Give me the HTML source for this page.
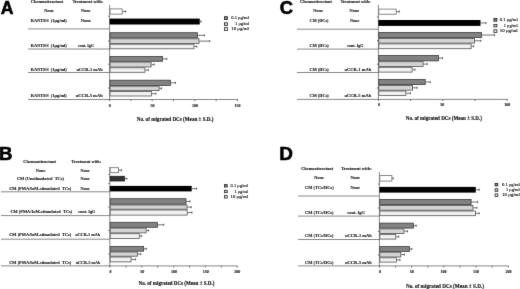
<!DOCTYPE html>
<html><head><meta charset="utf-8"><style>
html,body{margin:0;padding:0;background:#fff;width:520px;height:289px;overflow:hidden}
svg{display:block;filter:grayscale(1)}
</style></head><body>
<svg width="520" height="289" viewBox="0 0 520 289">
<defs><filter id="bl" color-interpolation-filters="sRGB" filterUnits="userSpaceOnUse" x="0" y="0" width="520" height="289"><feConvolveMatrix order="3" kernelMatrix="0.00524 0.06192 0.00524 0.06192 0.73137 0.06192 0.00524 0.06192 0.00524" edgeMode="duplicate" preserveAlpha="true"/></filter></defs>
<g filter="url(#bl)">
<rect width="520" height="289" fill="#fff"/>
<text transform="translate(0.7,14.13) scale(0.883,0.942)" font-size="20" font-family="Liberation Sans, sans-serif" font-weight="bold" fill="#000" stroke="#000" stroke-width="0.6">A</text>
<text x="30.8" y="3.3" font-size="4.5" textLength="32.4" lengthAdjust="spacingAndGlyphs" font-family="Liberation Serif, serif" font-weight="bold" fill="#111" stroke="#111" stroke-width="0.1">Chemoattractant</text>
<text x="72.4" y="3.3" font-size="4.5" textLength="30.7" lengthAdjust="spacingAndGlyphs" font-family="Liberation Serif, serif" font-weight="bold" fill="#111" stroke="#111" stroke-width="0.1">Treatment with:</text>
<text x="44.2" y="12.2" font-size="4.5" textLength="9.5" lengthAdjust="spacingAndGlyphs" font-family="Liberation Serif, serif" font-weight="bold" fill="#111" stroke="#111" stroke-width="0.1">None</text>
<text x="81" y="12.2" font-size="4.5" textLength="9.5" lengthAdjust="spacingAndGlyphs" font-family="Liberation Serif, serif" font-weight="bold" fill="#111" stroke="#111" stroke-width="0.1">None</text>
<text x="30.8" y="22" font-size="4.5" textLength="36" lengthAdjust="spacingAndGlyphs" font-family="Liberation Serif, serif" font-weight="bold" fill="#111" stroke="#111" stroke-width="0.1">RANTES&#160;&#160;(1μg/ml)</text>
<text x="80.7" y="22.2" font-size="4.5" textLength="10.1" lengthAdjust="spacingAndGlyphs" font-family="Liberation Serif, serif" font-weight="bold" fill="#111" stroke="#111" stroke-width="0.1">None</text>
<text x="30.8" y="46.5" font-size="4.5" textLength="36" lengthAdjust="spacingAndGlyphs" font-family="Liberation Serif, serif" font-weight="bold" fill="#111" stroke="#111" stroke-width="0.1">RANTES&#160;&#160;(1μg/ml)</text>
<text x="78.1" y="46.5" font-size="4.5" textLength="15.8" lengthAdjust="spacingAndGlyphs" font-family="Liberation Serif, serif" font-weight="bold" fill="#111" stroke="#111" stroke-width="0.1">cont. IgG</text>
<text x="30.8" y="70.5" font-size="4.5" textLength="36" lengthAdjust="spacingAndGlyphs" font-family="Liberation Serif, serif" font-weight="bold" fill="#111" stroke="#111" stroke-width="0.1">RANTES&#160;&#160;(1μg/ml)</text>
<text x="76.5" y="70.5" font-size="4.5" textLength="26.2" lengthAdjust="spacingAndGlyphs" font-family="Liberation Serif, serif" font-weight="bold" fill="#111" stroke="#111" stroke-width="0.1">αCCR-1 mAb</text>
<text x="30.8" y="96.9" font-size="4.5" textLength="36" lengthAdjust="spacingAndGlyphs" font-family="Liberation Serif, serif" font-weight="bold" fill="#111" stroke="#111" stroke-width="0.1">RANTES&#160;&#160;(1μg/ml)</text>
<text x="75.8" y="96.9" font-size="4.5" textLength="26.9" lengthAdjust="spacingAndGlyphs" font-family="Liberation Serif, serif" font-weight="bold" fill="#111" stroke="#111" stroke-width="0.1">αCCR-5 mAb</text>
<line x1="28" y1="28.9" x2="109.6" y2="28.9" stroke="#6a6a6a" stroke-width="0.8"/>
<line x1="28" y1="49" x2="109.6" y2="49" stroke="#6a6a6a" stroke-width="0.8"/>
<line x1="28" y1="72.5" x2="109.6" y2="72.5" stroke="#6a6a6a" stroke-width="0.8"/>
<line x1="109.6" y1="4.8" x2="109.6" y2="100" stroke="#6a6a6a" stroke-width="0.8"/>
<line x1="28" y1="99.5" x2="238" y2="99.5" stroke="#6a6a6a" stroke-width="0.8"/>
<line x1="109.6" y1="99.5" x2="109.6" y2="101.1" stroke="#3a3a3a" stroke-width="0.7"/>
<line x1="130.9" y1="99.5" x2="130.9" y2="101.1" stroke="#3a3a3a" stroke-width="0.7"/>
<line x1="152.2" y1="99.5" x2="152.2" y2="101.1" stroke="#3a3a3a" stroke-width="0.7"/>
<line x1="173.5" y1="99.5" x2="173.5" y2="101.1" stroke="#3a3a3a" stroke-width="0.7"/>
<line x1="194.8" y1="99.5" x2="194.8" y2="101.1" stroke="#3a3a3a" stroke-width="0.7"/>
<line x1="216.1" y1="99.5" x2="216.1" y2="101.1" stroke="#3a3a3a" stroke-width="0.7"/>
<line x1="237.4" y1="99.5" x2="237.4" y2="101.1" stroke="#3a3a3a" stroke-width="0.7"/>
<text x="109.8" y="107.1" font-size="4" text-anchor="middle" font-family="Liberation Serif, serif" font-weight="bold" fill="#111" stroke="#111" stroke-width="0.1">0</text>
<text x="152.5" y="107.1" font-size="4" text-anchor="middle" font-family="Liberation Serif, serif" font-weight="bold" fill="#111" stroke="#111" stroke-width="0.1">50</text>
<text x="195" y="107.1" font-size="4" text-anchor="middle" font-family="Liberation Serif, serif" font-weight="bold" fill="#111" stroke="#111" stroke-width="0.1">100</text>
<text x="237.6" y="107.1" font-size="4" text-anchor="middle" font-family="Liberation Serif, serif" font-weight="bold" fill="#111" stroke="#111" stroke-width="0.1">150</text>
<text x="136.8" y="120.6" font-size="5.2" textLength="76.7" lengthAdjust="spacingAndGlyphs" font-family="Liberation Serif, serif" font-weight="bold" fill="#111" stroke="#111" stroke-width="0.12">No. of migrated DCs (Mean ± S.D.)</text>
<rect x="110" y="8.9" width="12.2" height="5.2" fill="#ffffff" stroke="#6a6a6a" stroke-width="0.8"/>
<line x1="122.6" y1="11.5" x2="125.6" y2="11.5" stroke="#333" stroke-width="0.7"/>
<line x1="125.6" y1="10.4" x2="125.6" y2="12.6" stroke="#333" stroke-width="0.7"/>
<rect x="109.6" y="18.6" width="90.15" height="5.9" fill="#000000"/>
<line x1="199.75" y1="21.55" x2="201" y2="21.55" stroke="#333" stroke-width="0.7"/>
<line x1="201" y1="20.45" x2="201" y2="22.65" stroke="#333" stroke-width="0.7"/>
<rect x="110" y="32.7" width="87.35" height="5.3" fill="#828282" stroke="#3c3c3c" stroke-width="0.8"/>
<line x1="197.75" y1="35.35" x2="204.4" y2="35.35" stroke="#333" stroke-width="0.7"/>
<line x1="204.4" y1="34.25" x2="204.4" y2="36.45" stroke="#333" stroke-width="0.7"/>
<rect x="110" y="38.8" width="89" height="4.6" fill="#d4d4d4" stroke="#505050" stroke-width="0.8"/>
<line x1="199.4" y1="41.1" x2="209.75" y2="41.1" stroke="#333" stroke-width="0.7"/>
<line x1="209.75" y1="40" x2="209.75" y2="42.2" stroke="#333" stroke-width="0.7"/>
<rect x="110" y="44.2" width="84" height="4.6" fill="#f1f1f1" stroke="#555555" stroke-width="0.8"/>
<line x1="194.4" y1="46.5" x2="196.9" y2="46.5" stroke="#333" stroke-width="0.7"/>
<line x1="196.9" y1="45.4" x2="196.9" y2="47.6" stroke="#333" stroke-width="0.7"/>
<rect x="110" y="56.4" width="52.4" height="4.9" fill="#828282" stroke="#3c3c3c" stroke-width="0.8"/>
<line x1="162.8" y1="58.85" x2="166.8" y2="58.85" stroke="#333" stroke-width="0.7"/>
<line x1="166.8" y1="57.75" x2="166.8" y2="59.95" stroke="#333" stroke-width="0.7"/>
<rect x="110" y="62.1" width="41.1" height="4.9" fill="#d4d4d4" stroke="#505050" stroke-width="0.8"/>
<line x1="151.5" y1="64.55" x2="154.2" y2="64.55" stroke="#333" stroke-width="0.7"/>
<line x1="154.2" y1="63.45" x2="154.2" y2="65.65" stroke="#333" stroke-width="0.7"/>
<rect x="110" y="67.8" width="34.9" height="4.5" fill="#f1f1f1" stroke="#555555" stroke-width="0.8"/>
<line x1="145.3" y1="70.05" x2="148.3" y2="70.05" stroke="#333" stroke-width="0.7"/>
<line x1="148.3" y1="68.95" x2="148.3" y2="71.15" stroke="#333" stroke-width="0.7"/>
<rect x="110" y="80.2" width="60.4" height="5.2" fill="#828282" stroke="#3c3c3c" stroke-width="0.8"/>
<line x1="170.8" y1="82.8" x2="175.5" y2="82.8" stroke="#333" stroke-width="0.7"/>
<line x1="175.5" y1="81.7" x2="175.5" y2="83.9" stroke="#333" stroke-width="0.7"/>
<rect x="110" y="86.2" width="49.1" height="4.4" fill="#d4d4d4" stroke="#505050" stroke-width="0.8"/>
<line x1="159.5" y1="88.4" x2="161.6" y2="88.4" stroke="#333" stroke-width="0.7"/>
<line x1="161.6" y1="87.3" x2="161.6" y2="89.5" stroke="#333" stroke-width="0.7"/>
<rect x="110" y="91.4" width="41.5" height="4.6" fill="#f1f1f1" stroke="#555555" stroke-width="0.8"/>
<line x1="151.9" y1="93.7" x2="155.9" y2="93.7" stroke="#333" stroke-width="0.7"/>
<line x1="155.9" y1="92.6" x2="155.9" y2="94.8" stroke="#333" stroke-width="0.7"/>
<line x1="108.1" y1="16.2" x2="109.6" y2="16.2" stroke="#3a3a3a" stroke-width="0.7"/>
<line x1="108.1" y1="40.8" x2="109.6" y2="40.8" stroke="#3a3a3a" stroke-width="0.7"/>
<line x1="108.1" y1="64.2" x2="109.6" y2="64.2" stroke="#3a3a3a" stroke-width="0.7"/>
<line x1="108.1" y1="88" x2="109.6" y2="88" stroke="#3a3a3a" stroke-width="0.7"/>
<rect x="224.4" y="16.7" width="3.2" height="2.8" fill="#828282" stroke="#222" stroke-width="0.8"/>
<text x="231.2" y="19.2" font-size="4.5" textLength="17.8" lengthAdjust="spacingAndGlyphs" font-family="Liberation Serif, serif" font-weight="normal" fill="#111" stroke="#111" stroke-width="0.12">0.1 μg/ml</text>
<rect x="224.4" y="22.8" width="3.2" height="2.6" fill="#d4d4d4" stroke="#222" stroke-width="0.8"/>
<text x="235.12" y="25.2" font-size="4.5" textLength="13.88" lengthAdjust="spacingAndGlyphs" font-family="Liberation Serif, serif" font-weight="normal" fill="#111" stroke="#111" stroke-width="0.12">1 μg/ml</text>
<rect x="224.4" y="27.7" width="3.2" height="2.8" fill="#f1f1f1" stroke="#222" stroke-width="0.8"/>
<text x="231.2" y="30.2" font-size="4.5" textLength="17.8" lengthAdjust="spacingAndGlyphs" font-family="Liberation Serif, serif" font-weight="normal" fill="#111" stroke="#111" stroke-width="0.12">10 μg/ml</text>
<text transform="translate(-0.93,160.03) scale(0.93,0.945)" font-size="20" font-family="Liberation Sans, sans-serif" font-weight="bold" fill="#000" stroke="#000" stroke-width="0.6">B</text>
<text x="23.3" y="162.5" font-size="4.5" textLength="32.7" lengthAdjust="spacingAndGlyphs" font-family="Liberation Serif, serif" font-weight="bold" fill="#111" stroke="#111" stroke-width="0.1">Chemoattractant</text>
<text x="71.3" y="162.5" font-size="4.5" textLength="29.9" lengthAdjust="spacingAndGlyphs" font-family="Liberation Serif, serif" font-weight="bold" fill="#111" stroke="#111" stroke-width="0.1">Treatment with:</text>
<text x="35.8" y="172.3" font-size="4.5" textLength="9.6" lengthAdjust="spacingAndGlyphs" font-family="Liberation Serif, serif" font-weight="bold" fill="#111" stroke="#111" stroke-width="0.1">None</text>
<text x="80.4" y="172.3" font-size="4.5" textLength="9.2" lengthAdjust="spacingAndGlyphs" font-family="Liberation Serif, serif" font-weight="bold" fill="#111" stroke="#111" stroke-width="0.1">None</text>
<text x="16.9" y="180.2" font-size="4.5" textLength="47.1" lengthAdjust="spacingAndGlyphs" font-family="Liberation Serif, serif" font-weight="bold" fill="#111" stroke="#111" stroke-width="0.1">CM (Unstimulated&#160;&#160;TCs)</text>
<text x="80.4" y="180.2" font-size="4.5" textLength="9.2" lengthAdjust="spacingAndGlyphs" font-family="Liberation Serif, serif" font-weight="bold" fill="#111" stroke="#111" stroke-width="0.1">None</text>
<text x="9.2" y="189.9" font-size="4.5" textLength="62.1" lengthAdjust="spacingAndGlyphs" font-family="Liberation Serif, serif" font-weight="bold" fill="#111" stroke="#111" stroke-width="0.1">CM (PMA/IoM-stimulated&#160;&#160;TCs)</text>
<text x="80.4" y="189.9" font-size="4.5" textLength="9.2" lengthAdjust="spacingAndGlyphs" font-family="Liberation Serif, serif" font-weight="bold" fill="#111" stroke="#111" stroke-width="0.1">None</text>
<text x="10.4" y="213.2" font-size="4.5" textLength="61.9" lengthAdjust="spacingAndGlyphs" font-family="Liberation Serif, serif" font-weight="bold" fill="#111" stroke="#111" stroke-width="0.1">CM (PMA/IoM-stimulated&#160;&#160;TCs)</text>
<text x="78.2" y="213.3" font-size="4.5" textLength="17.2" lengthAdjust="spacingAndGlyphs" font-family="Liberation Serif, serif" font-weight="bold" fill="#111" stroke="#111" stroke-width="0.1">cont. IgG</text>
<text x="9.2" y="236.3" font-size="4.5" textLength="62.1" lengthAdjust="spacingAndGlyphs" font-family="Liberation Serif, serif" font-weight="bold" fill="#111" stroke="#111" stroke-width="0.1">CM (PMA/IoM-stimulated&#160;&#160;TCs)</text>
<text x="75.2" y="236.3" font-size="4.5" textLength="25" lengthAdjust="spacingAndGlyphs" font-family="Liberation Serif, serif" font-weight="bold" fill="#111" stroke="#111" stroke-width="0.1">αCCR-1 mAb</text>
<text x="9.2" y="263.5" font-size="4.5" textLength="62.1" lengthAdjust="spacingAndGlyphs" font-family="Liberation Serif, serif" font-weight="bold" fill="#111" stroke="#111" stroke-width="0.1">CM (PMA/IoM-stimulated&#160;&#160;TCs)</text>
<text x="75.8" y="263.5" font-size="4.5" textLength="24.4" lengthAdjust="spacingAndGlyphs" font-family="Liberation Serif, serif" font-weight="bold" fill="#111" stroke="#111" stroke-width="0.1">αCCR-5 mAb</text>
<line x1="1" y1="191.8" x2="109.8" y2="191.8" stroke="#6a6a6a" stroke-width="0.8"/>
<line x1="1" y1="215.6" x2="109.8" y2="215.6" stroke="#6a6a6a" stroke-width="0.8"/>
<line x1="1" y1="239.2" x2="109.8" y2="239.2" stroke="#6a6a6a" stroke-width="0.8"/>
<line x1="109.8" y1="166.9" x2="109.8" y2="266.4" stroke="#6a6a6a" stroke-width="0.8"/>
<line x1="1" y1="265.9" x2="237.5" y2="265.9" stroke="#6a6a6a" stroke-width="0.8"/>
<line x1="110" y1="265.9" x2="110" y2="267.5" stroke="#3a3a3a" stroke-width="0.7"/>
<line x1="125.9" y1="265.9" x2="125.9" y2="267.5" stroke="#3a3a3a" stroke-width="0.7"/>
<line x1="141.8" y1="265.9" x2="141.8" y2="267.5" stroke="#3a3a3a" stroke-width="0.7"/>
<line x1="157.7" y1="265.9" x2="157.7" y2="267.5" stroke="#3a3a3a" stroke-width="0.7"/>
<line x1="173.6" y1="265.9" x2="173.6" y2="267.5" stroke="#3a3a3a" stroke-width="0.7"/>
<line x1="189.5" y1="265.9" x2="189.5" y2="267.5" stroke="#3a3a3a" stroke-width="0.7"/>
<line x1="205.4" y1="265.9" x2="205.4" y2="267.5" stroke="#3a3a3a" stroke-width="0.7"/>
<line x1="221.3" y1="265.9" x2="221.3" y2="267.5" stroke="#3a3a3a" stroke-width="0.7"/>
<line x1="237.2" y1="265.9" x2="237.2" y2="267.5" stroke="#3a3a3a" stroke-width="0.7"/>
<text x="110.5" y="273.4" font-size="4" text-anchor="middle" font-family="Liberation Serif, serif" font-weight="bold" fill="#111" stroke="#111" stroke-width="0.1">0</text>
<text x="142.3" y="273.4" font-size="4" text-anchor="middle" font-family="Liberation Serif, serif" font-weight="bold" fill="#111" stroke="#111" stroke-width="0.1">50</text>
<text x="174" y="273.4" font-size="4" text-anchor="middle" font-family="Liberation Serif, serif" font-weight="bold" fill="#111" stroke="#111" stroke-width="0.1">100</text>
<text x="205.8" y="273.4" font-size="4" text-anchor="middle" font-family="Liberation Serif, serif" font-weight="bold" fill="#111" stroke="#111" stroke-width="0.1">150</text>
<text x="237.3" y="273.4" font-size="4" text-anchor="middle" font-family="Liberation Serif, serif" font-weight="bold" fill="#111" stroke="#111" stroke-width="0.1">200</text>
<text x="138.5" y="284.5" font-size="5.2" textLength="76" lengthAdjust="spacingAndGlyphs" font-family="Liberation Serif, serif" font-weight="bold" fill="#111" stroke="#111" stroke-width="0.12">No. of migrated DCs (Mean ± S.D.)</text>
<rect x="110.2" y="167.7" width="8.2" height="5" fill="#ffffff" stroke="#6a6a6a" stroke-width="0.8"/>
<line x1="118.8" y1="170.2" x2="121.6" y2="170.2" stroke="#333" stroke-width="0.7"/>
<line x1="121.6" y1="169.1" x2="121.6" y2="171.3" stroke="#333" stroke-width="0.7"/>
<rect x="110.2" y="176.3" width="14.2" height="4.7" fill="#333333" stroke="#1a1a1a" stroke-width="0.8"/>
<line x1="124.8" y1="178.65" x2="126.8" y2="178.65" stroke="#333" stroke-width="0.7"/>
<line x1="126.8" y1="177.55" x2="126.8" y2="179.75" stroke="#333" stroke-width="0.7"/>
<rect x="109.8" y="185.9" width="81.9" height="5.5" fill="#000000"/>
<line x1="191.7" y1="188.65" x2="196.5" y2="188.65" stroke="#333" stroke-width="0.7"/>
<line x1="196.5" y1="187.55" x2="196.5" y2="189.75" stroke="#333" stroke-width="0.7"/>
<rect x="110.2" y="198.7" width="75.8" height="5.5" fill="#828282" stroke="#3c3c3c" stroke-width="0.8"/>
<line x1="186.4" y1="201.45" x2="190" y2="201.45" stroke="#333" stroke-width="0.7"/>
<line x1="190" y1="200.35" x2="190" y2="202.55" stroke="#333" stroke-width="0.7"/>
<rect x="110.2" y="205" width="76.8" height="4.2" fill="#d4d4d4" stroke="#505050" stroke-width="0.8"/>
<line x1="187.4" y1="207.1" x2="191.2" y2="207.1" stroke="#333" stroke-width="0.7"/>
<line x1="191.2" y1="206" x2="191.2" y2="208.2" stroke="#333" stroke-width="0.7"/>
<rect x="110.2" y="210" width="77" height="5.1" fill="#f1f1f1" stroke="#555555" stroke-width="0.8"/>
<line x1="187.6" y1="212.55" x2="192" y2="212.55" stroke="#333" stroke-width="0.7"/>
<line x1="192" y1="211.45" x2="192" y2="213.65" stroke="#333" stroke-width="0.7"/>
<rect x="110.2" y="222.3" width="47.15" height="5" fill="#828282" stroke="#3c3c3c" stroke-width="0.8"/>
<line x1="157.75" y1="224.8" x2="163.75" y2="224.8" stroke="#333" stroke-width="0.7"/>
<line x1="163.75" y1="223.7" x2="163.75" y2="225.9" stroke="#333" stroke-width="0.7"/>
<rect x="110.2" y="228.1" width="35.9" height="4.8" fill="#d4d4d4" stroke="#505050" stroke-width="0.8"/>
<line x1="146.5" y1="230.5" x2="148.6" y2="230.5" stroke="#333" stroke-width="0.7"/>
<line x1="148.6" y1="229.4" x2="148.6" y2="231.6" stroke="#333" stroke-width="0.7"/>
<rect x="110.2" y="233.7" width="29.1" height="4.7" fill="#f1f1f1" stroke="#555555" stroke-width="0.8"/>
<line x1="139.7" y1="236.05" x2="141.6" y2="236.05" stroke="#333" stroke-width="0.7"/>
<line x1="141.6" y1="234.95" x2="141.6" y2="237.15" stroke="#333" stroke-width="0.7"/>
<rect x="110.2" y="246.4" width="33.4" height="4.8" fill="#828282" stroke="#3c3c3c" stroke-width="0.8"/>
<line x1="144" y1="248.8" x2="146.3" y2="248.8" stroke="#333" stroke-width="0.7"/>
<line x1="146.3" y1="247.7" x2="146.3" y2="249.9" stroke="#333" stroke-width="0.7"/>
<rect x="110.2" y="252" width="27.2" height="4.2" fill="#d4d4d4" stroke="#505050" stroke-width="0.8"/>
<line x1="137.8" y1="254.1" x2="140.8" y2="254.1" stroke="#333" stroke-width="0.7"/>
<line x1="140.8" y1="253" x2="140.8" y2="255.2" stroke="#333" stroke-width="0.7"/>
<rect x="110.2" y="257" width="20.9" height="4.9" fill="#f1f1f1" stroke="#555555" stroke-width="0.8"/>
<line x1="131.5" y1="259.45" x2="135.6" y2="259.45" stroke="#333" stroke-width="0.7"/>
<line x1="135.6" y1="258.35" x2="135.6" y2="260.55" stroke="#333" stroke-width="0.7"/>
<line x1="108.3" y1="174.5" x2="109.8" y2="174.5" stroke="#3a3a3a" stroke-width="0.7"/>
<line x1="108.3" y1="183.6" x2="109.8" y2="183.6" stroke="#3a3a3a" stroke-width="0.7"/>
<line x1="108.3" y1="207" x2="109.8" y2="207" stroke="#3a3a3a" stroke-width="0.7"/>
<line x1="108.3" y1="230.5" x2="109.8" y2="230.5" stroke="#3a3a3a" stroke-width="0.7"/>
<line x1="108.3" y1="254" x2="109.8" y2="254" stroke="#3a3a3a" stroke-width="0.7"/>
<rect x="224.5" y="184.6" width="2.7" height="2.4" fill="#828282" stroke="#222" stroke-width="0.8"/>
<text x="230.6" y="186.9" font-size="4.5" textLength="17.4" lengthAdjust="spacingAndGlyphs" font-family="Liberation Serif, serif" font-weight="normal" fill="#111" stroke="#111" stroke-width="0.12">0.1 μg/ml</text>
<rect x="224.5" y="190.3" width="2.7" height="2.4" fill="#d4d4d4" stroke="#222" stroke-width="0.8"/>
<text x="234.43" y="192.6" font-size="4.5" textLength="13.57" lengthAdjust="spacingAndGlyphs" font-family="Liberation Serif, serif" font-weight="normal" fill="#111" stroke="#111" stroke-width="0.12">1 μg/ml</text>
<rect x="224.5" y="195.6" width="2.7" height="2.4" fill="#f1f1f1" stroke="#222" stroke-width="0.8"/>
<text x="230.6" y="197.9" font-size="4.5" textLength="17.4" lengthAdjust="spacingAndGlyphs" font-family="Liberation Serif, serif" font-weight="normal" fill="#111" stroke="#111" stroke-width="0.12">10 μg/ml</text>
<text transform="translate(279.74,14.2) scale(0.92,0.96)" font-size="20" font-family="Liberation Sans, sans-serif" font-weight="bold" fill="#000" stroke="#000" stroke-width="0.6">C</text>
<text x="300" y="3.3" font-size="4.5" textLength="31.9" lengthAdjust="spacingAndGlyphs" font-family="Liberation Serif, serif" font-weight="bold" fill="#111" stroke="#111" stroke-width="0.1">Chemoattractant</text>
<text x="340.4" y="3.3" font-size="4.5" textLength="30.3" lengthAdjust="spacingAndGlyphs" font-family="Liberation Serif, serif" font-weight="bold" fill="#111" stroke="#111" stroke-width="0.1">Treatment with:</text>
<text x="313.2" y="12.3" font-size="4.5" textLength="9.8" lengthAdjust="spacingAndGlyphs" font-family="Liberation Serif, serif" font-weight="bold" fill="#111" stroke="#111" stroke-width="0.1">None</text>
<text x="349.6" y="12.3" font-size="4.5" textLength="9.7" lengthAdjust="spacingAndGlyphs" font-family="Liberation Serif, serif" font-weight="bold" fill="#111" stroke="#111" stroke-width="0.1">None</text>
<text x="309.6" y="22.3" font-size="4.9" textLength="18.9" lengthAdjust="spacingAndGlyphs" font-family="Liberation Serif, serif" font-weight="bold" fill="#111" stroke="#111" stroke-width="0.1">CM (DCs)</text>
<text x="350" y="22.2" font-size="4.5" textLength="9.3" lengthAdjust="spacingAndGlyphs" font-family="Liberation Serif, serif" font-weight="bold" fill="#111" stroke="#111" stroke-width="0.1">None</text>
<text x="309.6" y="46.9" font-size="4.5" textLength="19.2" lengthAdjust="spacingAndGlyphs" font-family="Liberation Serif, serif" font-weight="bold" fill="#111" stroke="#111" stroke-width="0.1">CM (DCs)</text>
<text x="347.3" y="46.9" font-size="4.5" textLength="16.2" lengthAdjust="spacingAndGlyphs" font-family="Liberation Serif, serif" font-weight="bold" fill="#111" stroke="#111" stroke-width="0.1">cont. IgG</text>
<text x="309.6" y="70.5" font-size="4.5" textLength="19.2" lengthAdjust="spacingAndGlyphs" font-family="Liberation Serif, serif" font-weight="bold" fill="#111" stroke="#111" stroke-width="0.1">CM (DCs)</text>
<text x="344.5" y="70.5" font-size="4.5" textLength="26.7" lengthAdjust="spacingAndGlyphs" font-family="Liberation Serif, serif" font-weight="bold" fill="#111" stroke="#111" stroke-width="0.1">αCCR-1 mAb</text>
<text x="309.6" y="96.8" font-size="4.5" textLength="19.2" lengthAdjust="spacingAndGlyphs" font-family="Liberation Serif, serif" font-weight="bold" fill="#111" stroke="#111" stroke-width="0.1">CM (DCs)</text>
<text x="344.5" y="96.8" font-size="4.5" textLength="26.7" lengthAdjust="spacingAndGlyphs" font-family="Liberation Serif, serif" font-weight="bold" fill="#111" stroke="#111" stroke-width="0.1">αCCR-5 mAb</text>
<line x1="297" y1="29.2" x2="378.4" y2="29.2" stroke="#6a6a6a" stroke-width="0.8"/>
<line x1="297" y1="49.1" x2="378.4" y2="49.1" stroke="#6a6a6a" stroke-width="0.8"/>
<line x1="297" y1="72.5" x2="378.4" y2="72.5" stroke="#6a6a6a" stroke-width="0.8"/>
<line x1="378.4" y1="4.8" x2="378.4" y2="99.9" stroke="#6a6a6a" stroke-width="0.8"/>
<line x1="297" y1="99.4" x2="507.5" y2="99.4" stroke="#6a6a6a" stroke-width="0.8"/>
<line x1="378.5" y1="99.4" x2="378.5" y2="101" stroke="#3a3a3a" stroke-width="0.7"/>
<line x1="410.65" y1="99.4" x2="410.65" y2="101" stroke="#3a3a3a" stroke-width="0.7"/>
<line x1="442.8" y1="99.4" x2="442.8" y2="101" stroke="#3a3a3a" stroke-width="0.7"/>
<line x1="474.95" y1="99.4" x2="474.95" y2="101" stroke="#3a3a3a" stroke-width="0.7"/>
<line x1="507.1" y1="99.4" x2="507.1" y2="101" stroke="#3a3a3a" stroke-width="0.7"/>
<text x="378.9" y="106.3" font-size="4" text-anchor="middle" font-family="Liberation Serif, serif" font-weight="bold" fill="#111" stroke="#111" stroke-width="0.1">0</text>
<text x="442.2" y="106.3" font-size="4" text-anchor="middle" font-family="Liberation Serif, serif" font-weight="bold" fill="#111" stroke="#111" stroke-width="0.1">50</text>
<text x="507.3" y="106.3" font-size="4" text-anchor="middle" font-family="Liberation Serif, serif" font-weight="bold" fill="#111" stroke="#111" stroke-width="0.1">100</text>
<text x="405.75" y="120.3" font-size="5.2" textLength="76.25" lengthAdjust="spacingAndGlyphs" font-family="Liberation Serif, serif" font-weight="bold" fill="#111" stroke="#111" stroke-width="0.12">No. of migrated DCs (Mean ± S.D.)</text>
<rect x="378.8" y="9.1" width="17.4" height="5.1" fill="#ffffff" stroke="#6a6a6a" stroke-width="0.8"/>
<line x1="396.6" y1="11.65" x2="399.4" y2="11.65" stroke="#333" stroke-width="0.7"/>
<line x1="399.4" y1="10.55" x2="399.4" y2="12.75" stroke="#333" stroke-width="0.7"/>
<rect x="378.4" y="20" width="102.1" height="5.9" fill="#000000"/>
<line x1="480.5" y1="22.95" x2="486" y2="22.95" stroke="#333" stroke-width="0.7"/>
<line x1="486" y1="21.85" x2="486" y2="24.05" stroke="#333" stroke-width="0.7"/>
<rect x="378.8" y="32.4" width="102.7" height="5.2" fill="#828282" stroke="#3c3c3c" stroke-width="0.8"/>
<line x1="481.9" y1="35" x2="494.6" y2="35" stroke="#333" stroke-width="0.7"/>
<line x1="494.6" y1="33.9" x2="494.6" y2="36.1" stroke="#333" stroke-width="0.7"/>
<rect x="378.8" y="38.4" width="95.8" height="4.7" fill="#d4d4d4" stroke="#505050" stroke-width="0.8"/>
<line x1="475" y1="40.75" x2="480.9" y2="40.75" stroke="#333" stroke-width="0.7"/>
<line x1="480.9" y1="39.65" x2="480.9" y2="41.85" stroke="#333" stroke-width="0.7"/>
<rect x="378.8" y="43.9" width="92.3" height="4.8" fill="#f1f1f1" stroke="#555555" stroke-width="0.8"/>
<line x1="471.5" y1="46.3" x2="473.75" y2="46.3" stroke="#333" stroke-width="0.7"/>
<line x1="473.75" y1="45.2" x2="473.75" y2="47.4" stroke="#333" stroke-width="0.7"/>
<rect x="378.8" y="55.4" width="59.8" height="5.5" fill="#828282" stroke="#3c3c3c" stroke-width="0.8"/>
<line x1="439" y1="58.15" x2="442.5" y2="58.15" stroke="#333" stroke-width="0.7"/>
<line x1="442.5" y1="57.05" x2="442.5" y2="59.25" stroke="#333" stroke-width="0.7"/>
<rect x="378.8" y="61.7" width="44.3" height="4.8" fill="#d4d4d4" stroke="#505050" stroke-width="0.8"/>
<line x1="423.5" y1="64.1" x2="427.25" y2="64.1" stroke="#333" stroke-width="0.7"/>
<line x1="427.25" y1="63" x2="427.25" y2="65.2" stroke="#333" stroke-width="0.7"/>
<rect x="378.8" y="67.3" width="33.3" height="4.8" fill="#f1f1f1" stroke="#555555" stroke-width="0.8"/>
<line x1="412.5" y1="69.7" x2="415" y2="69.7" stroke="#333" stroke-width="0.7"/>
<line x1="415" y1="68.6" x2="415" y2="70.8" stroke="#333" stroke-width="0.7"/>
<rect x="378.8" y="79.4" width="46.4" height="5.2" fill="#828282" stroke="#3c3c3c" stroke-width="0.8"/>
<line x1="425.6" y1="82" x2="430.25" y2="82" stroke="#333" stroke-width="0.7"/>
<line x1="430.25" y1="80.9" x2="430.25" y2="83.1" stroke="#333" stroke-width="0.7"/>
<rect x="378.8" y="85.4" width="33.8" height="4.8" fill="#d4d4d4" stroke="#505050" stroke-width="0.8"/>
<line x1="413" y1="87.8" x2="417.1" y2="87.8" stroke="#333" stroke-width="0.7"/>
<line x1="417.1" y1="86.7" x2="417.1" y2="88.9" stroke="#333" stroke-width="0.7"/>
<rect x="378.8" y="91" width="27.1" height="4.5" fill="#f1f1f1" stroke="#555555" stroke-width="0.8"/>
<line x1="406.3" y1="93.25" x2="410.4" y2="93.25" stroke="#333" stroke-width="0.7"/>
<line x1="410.4" y1="92.15" x2="410.4" y2="94.35" stroke="#333" stroke-width="0.7"/>
<line x1="376.9" y1="16.9" x2="378.4" y2="16.9" stroke="#3a3a3a" stroke-width="0.7"/>
<line x1="376.9" y1="40.8" x2="378.4" y2="40.8" stroke="#3a3a3a" stroke-width="0.7"/>
<line x1="376.9" y1="64.2" x2="378.4" y2="64.2" stroke="#3a3a3a" stroke-width="0.7"/>
<line x1="376.9" y1="88" x2="378.4" y2="88" stroke="#3a3a3a" stroke-width="0.7"/>
<rect x="493.9" y="18.5" width="3" height="2.7" fill="#828282" stroke="#222" stroke-width="0.8"/>
<text x="499.8" y="20.95" font-size="4.5" textLength="17.9" lengthAdjust="spacingAndGlyphs" font-family="Liberation Serif, serif" font-weight="normal" fill="#111" stroke="#111" stroke-width="0.12">0.1 μg/ml</text>
<rect x="493.9" y="24.4" width="3" height="2.5" fill="#d4d4d4" stroke="#222" stroke-width="0.8"/>
<text x="503.74" y="26.75" font-size="4.5" textLength="13.96" lengthAdjust="spacingAndGlyphs" font-family="Liberation Serif, serif" font-weight="normal" fill="#111" stroke="#111" stroke-width="0.12">1 μg/ml</text>
<rect x="493.9" y="29.8" width="3" height="2.7" fill="#f1f1f1" stroke="#222" stroke-width="0.8"/>
<text x="499.8" y="32.25" font-size="4.5" textLength="17.9" lengthAdjust="spacingAndGlyphs" font-family="Liberation Serif, serif" font-weight="normal" fill="#111" stroke="#111" stroke-width="0.12">10 μg/ml</text>
<text transform="translate(279.15,160.03) scale(0.946,0.945)" font-size="20" font-family="Liberation Sans, sans-serif" font-weight="bold" fill="#000" stroke="#000" stroke-width="0.6">D</text>
<text x="301.2" y="170.4" font-size="4.5" textLength="32" lengthAdjust="spacingAndGlyphs" font-family="Liberation Serif, serif" font-weight="bold" fill="#111" stroke="#111" stroke-width="0.1">Chemoattractant</text>
<text x="341.2" y="170.4" font-size="4.5" textLength="30.4" lengthAdjust="spacingAndGlyphs" font-family="Liberation Serif, serif" font-weight="bold" fill="#111" stroke="#111" stroke-width="0.1">Treatment with:</text>
<text x="314.2" y="179.2" font-size="4.5" textLength="9.7" lengthAdjust="spacingAndGlyphs" font-family="Liberation Serif, serif" font-weight="bold" fill="#111" stroke="#111" stroke-width="0.1">None</text>
<text x="350.4" y="179.2" font-size="4.5" textLength="9.5" lengthAdjust="spacingAndGlyphs" font-family="Liberation Serif, serif" font-weight="bold" fill="#111" stroke="#111" stroke-width="0.1">None</text>
<text x="305" y="188.9" font-size="4.5" textLength="28.6" lengthAdjust="spacingAndGlyphs" font-family="Liberation Serif, serif" font-weight="bold" fill="#111" stroke="#111" stroke-width="0.1">CM (TCs/DCs)</text>
<text x="350.4" y="188.8" font-size="4.5" textLength="9.5" lengthAdjust="spacingAndGlyphs" font-family="Liberation Serif, serif" font-weight="bold" fill="#111" stroke="#111" stroke-width="0.1">None</text>
<text x="305" y="213.5" font-size="4.5" textLength="28.5" lengthAdjust="spacingAndGlyphs" font-family="Liberation Serif, serif" font-weight="bold" fill="#111" stroke="#111" stroke-width="0.1">CM (TCs/DCs)</text>
<text x="347.3" y="213.5" font-size="4.5" textLength="17.7" lengthAdjust="spacingAndGlyphs" font-family="Liberation Serif, serif" font-weight="bold" fill="#111" stroke="#111" stroke-width="0.1">cont. IgG</text>
<text x="305" y="237.3" font-size="4.5" textLength="28.5" lengthAdjust="spacingAndGlyphs" font-family="Liberation Serif, serif" font-weight="bold" fill="#111" stroke="#111" stroke-width="0.1">CM (TCs/DCs)</text>
<text x="345" y="237.3" font-size="4.5" textLength="26.9" lengthAdjust="spacingAndGlyphs" font-family="Liberation Serif, serif" font-weight="bold" fill="#111" stroke="#111" stroke-width="0.1">αCCR-1 mAb</text>
<text x="305" y="264" font-size="4.5" textLength="28.5" lengthAdjust="spacingAndGlyphs" font-family="Liberation Serif, serif" font-weight="bold" fill="#111" stroke="#111" stroke-width="0.1">CM (TCs/DCs)</text>
<text x="345" y="264" font-size="4.5" textLength="26.9" lengthAdjust="spacingAndGlyphs" font-family="Liberation Serif, serif" font-weight="bold" fill="#111" stroke="#111" stroke-width="0.1">αCCR-5 mAb</text>
<line x1="298" y1="196" x2="379.4" y2="196" stroke="#6a6a6a" stroke-width="0.8"/>
<line x1="298" y1="216.1" x2="379.4" y2="216.1" stroke="#6a6a6a" stroke-width="0.8"/>
<line x1="298" y1="239.5" x2="379.4" y2="239.5" stroke="#6a6a6a" stroke-width="0.8"/>
<line x1="379.4" y1="171.9" x2="379.4" y2="266.4" stroke="#6a6a6a" stroke-width="0.8"/>
<line x1="298" y1="265.9" x2="508.5" y2="265.9" stroke="#6a6a6a" stroke-width="0.8"/>
<line x1="379.5" y1="265.9" x2="379.5" y2="267.5" stroke="#3a3a3a" stroke-width="0.7"/>
<line x1="395.6" y1="265.9" x2="395.6" y2="267.5" stroke="#3a3a3a" stroke-width="0.7"/>
<line x1="411.7" y1="265.9" x2="411.7" y2="267.5" stroke="#3a3a3a" stroke-width="0.7"/>
<line x1="427.8" y1="265.9" x2="427.8" y2="267.5" stroke="#3a3a3a" stroke-width="0.7"/>
<line x1="443.9" y1="265.9" x2="443.9" y2="267.5" stroke="#3a3a3a" stroke-width="0.7"/>
<line x1="460" y1="265.9" x2="460" y2="267.5" stroke="#3a3a3a" stroke-width="0.7"/>
<line x1="476.1" y1="265.9" x2="476.1" y2="267.5" stroke="#3a3a3a" stroke-width="0.7"/>
<line x1="492.2" y1="265.9" x2="492.2" y2="267.5" stroke="#3a3a3a" stroke-width="0.7"/>
<line x1="508.3" y1="265.9" x2="508.3" y2="267.5" stroke="#3a3a3a" stroke-width="0.7"/>
<text x="380.1" y="273.1" font-size="4" text-anchor="middle" font-family="Liberation Serif, serif" font-weight="bold" fill="#111" stroke="#111" stroke-width="0.1">0</text>
<text x="411.8" y="273.1" font-size="4" text-anchor="middle" font-family="Liberation Serif, serif" font-weight="bold" fill="#111" stroke="#111" stroke-width="0.1">50</text>
<text x="443.5" y="273.1" font-size="4" text-anchor="middle" font-family="Liberation Serif, serif" font-weight="bold" fill="#111" stroke="#111" stroke-width="0.1">100</text>
<text x="476.1" y="273.1" font-size="4" text-anchor="middle" font-family="Liberation Serif, serif" font-weight="bold" fill="#111" stroke="#111" stroke-width="0.1">150</text>
<text x="508.5" y="273.1" font-size="4" text-anchor="middle" font-family="Liberation Serif, serif" font-weight="bold" fill="#111" stroke="#111" stroke-width="0.1">200</text>
<text x="406" y="287.6" font-size="5.2" textLength="78" lengthAdjust="spacingAndGlyphs" font-family="Liberation Serif, serif" font-weight="bold" fill="#111" stroke="#111" stroke-width="0.12">No. of migrated DCs (Mean ± S.D.)</text>
<rect x="379.8" y="175.6" width="12.1" height="5.5" fill="#ffffff" stroke="#6a6a6a" stroke-width="0.8"/>
<line x1="392.3" y1="178.35" x2="393.3" y2="178.35" stroke="#333" stroke-width="0.7"/>
<line x1="393.3" y1="177.25" x2="393.3" y2="179.45" stroke="#333" stroke-width="0.7"/>
<rect x="379.4" y="186.9" width="96.4" height="5.7" fill="#000000"/>
<line x1="475.8" y1="189.75" x2="479.3" y2="189.75" stroke="#333" stroke-width="0.7"/>
<line x1="479.3" y1="188.65" x2="479.3" y2="190.85" stroke="#333" stroke-width="0.7"/>
<rect x="379.8" y="199.4" width="91.3" height="5.2" fill="#828282" stroke="#3c3c3c" stroke-width="0.8"/>
<line x1="471.5" y1="202" x2="477.6" y2="202" stroke="#333" stroke-width="0.7"/>
<line x1="477.6" y1="200.9" x2="477.6" y2="203.1" stroke="#333" stroke-width="0.7"/>
<rect x="379.8" y="205.4" width="93.2" height="4.8" fill="#d4d4d4" stroke="#505050" stroke-width="0.8"/>
<line x1="473.4" y1="207.8" x2="476.9" y2="207.8" stroke="#333" stroke-width="0.7"/>
<line x1="476.9" y1="206.7" x2="476.9" y2="208.9" stroke="#333" stroke-width="0.7"/>
<rect x="379.8" y="211" width="95.6" height="4.7" fill="#f1f1f1" stroke="#555555" stroke-width="0.8"/>
<line x1="475.8" y1="213.35" x2="479.2" y2="213.35" stroke="#333" stroke-width="0.7"/>
<line x1="479.2" y1="212.25" x2="479.2" y2="214.45" stroke="#333" stroke-width="0.7"/>
<rect x="379.8" y="223.1" width="33.55" height="5" fill="#828282" stroke="#3c3c3c" stroke-width="0.8"/>
<line x1="413.75" y1="225.6" x2="416.25" y2="225.6" stroke="#333" stroke-width="0.7"/>
<line x1="416.25" y1="224.5" x2="416.25" y2="226.7" stroke="#333" stroke-width="0.7"/>
<rect x="379.8" y="228.9" width="24.2" height="4.7" fill="#d4d4d4" stroke="#505050" stroke-width="0.8"/>
<line x1="404.4" y1="231.25" x2="407.5" y2="231.25" stroke="#333" stroke-width="0.7"/>
<line x1="407.5" y1="230.15" x2="407.5" y2="232.35" stroke="#333" stroke-width="0.7"/>
<rect x="379.8" y="234.4" width="16.05" height="4.7" fill="#f1f1f1" stroke="#555555" stroke-width="0.8"/>
<line x1="396.25" y1="236.75" x2="398.75" y2="236.75" stroke="#333" stroke-width="0.7"/>
<line x1="398.75" y1="235.65" x2="398.75" y2="237.85" stroke="#333" stroke-width="0.7"/>
<rect x="379.8" y="246.6" width="29.8" height="4.8" fill="#828282" stroke="#3c3c3c" stroke-width="0.8"/>
<line x1="410" y1="249" x2="411.9" y2="249" stroke="#333" stroke-width="0.7"/>
<line x1="411.9" y1="247.9" x2="411.9" y2="250.1" stroke="#333" stroke-width="0.7"/>
<rect x="379.8" y="252.2" width="21.05" height="4.8" fill="#d4d4d4" stroke="#505050" stroke-width="0.8"/>
<line x1="401.25" y1="254.6" x2="404.4" y2="254.6" stroke="#333" stroke-width="0.7"/>
<line x1="404.4" y1="253.5" x2="404.4" y2="255.7" stroke="#333" stroke-width="0.7"/>
<rect x="379.8" y="257.8" width="16.8" height="4.3" fill="#f1f1f1" stroke="#555555" stroke-width="0.8"/>
<line x1="397" y1="259.95" x2="400" y2="259.95" stroke="#333" stroke-width="0.7"/>
<line x1="400" y1="258.85" x2="400" y2="261.05" stroke="#333" stroke-width="0.7"/>
<line x1="377.9" y1="184" x2="379.4" y2="184" stroke="#3a3a3a" stroke-width="0.7"/>
<line x1="377.9" y1="208" x2="379.4" y2="208" stroke="#3a3a3a" stroke-width="0.7"/>
<line x1="377.9" y1="231.5" x2="379.4" y2="231.5" stroke="#3a3a3a" stroke-width="0.7"/>
<line x1="377.9" y1="255" x2="379.4" y2="255" stroke="#3a3a3a" stroke-width="0.7"/>
<rect x="495.1" y="183.4" width="2.7" height="2.5" fill="#828282" stroke="#222" stroke-width="0.8"/>
<text x="502" y="185.75" font-size="4.5" textLength="17.8" lengthAdjust="spacingAndGlyphs" font-family="Liberation Serif, serif" font-weight="normal" fill="#111" stroke="#111" stroke-width="0.12">0.1 μg/ml</text>
<rect x="495.1" y="188.8" width="2.7" height="2.5" fill="#d4d4d4" stroke="#222" stroke-width="0.8"/>
<text x="505.92" y="191.15" font-size="4.5" textLength="13.88" lengthAdjust="spacingAndGlyphs" font-family="Liberation Serif, serif" font-weight="normal" fill="#111" stroke="#111" stroke-width="0.12">1 μg/ml</text>
<rect x="495.1" y="193.9" width="2.7" height="2.5" fill="#f1f1f1" stroke="#222" stroke-width="0.8"/>
<text x="502" y="196.25" font-size="4.5" textLength="17.8" lengthAdjust="spacingAndGlyphs" font-family="Liberation Serif, serif" font-weight="normal" fill="#111" stroke="#111" stroke-width="0.12">10 μg/ml</text>
</g>
</svg>
</body></html>
